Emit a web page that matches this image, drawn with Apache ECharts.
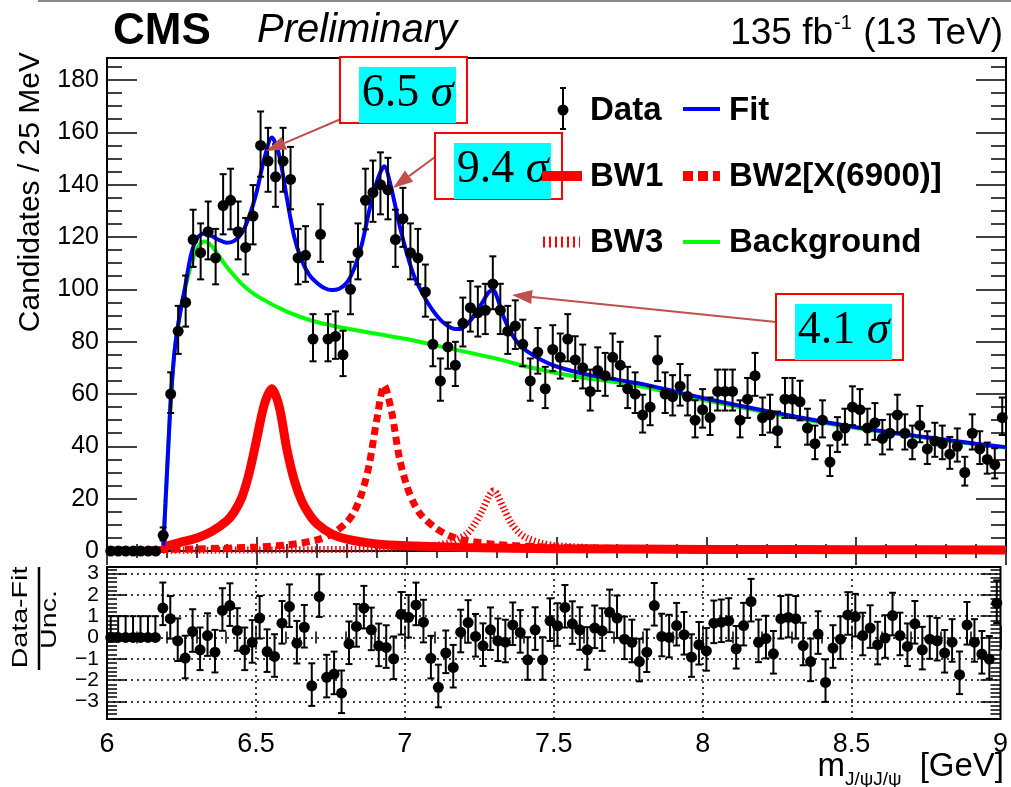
<!DOCTYPE html>
<html><head><meta charset="utf-8">
<script src="https://cdn.jsdelivr.net/npm/echarts@6/dist/echarts.min.js"></script>
<style>html,body{margin:0;padding:0;background:#fff}#c{width:1011px;height:787px}</style>
</head><body><div id="c"></div>
<script>
// ---------------- data ----------------
const BIN_START = 6.0;
const BIN_WIDTH = 0.025;
const counts = [0,0,0,0,0,0,0,6,60,84,95,119,114,122,112,132,134,122,116,128,
155,149,143,149,142,112,113,81,121,81,82,75,100,114,134,137,140,138,119,127,
114,112,99,79,65,78,71,87,93,91,92,102,92,84,86,79,65,76,62,77,
74,81,73,70,61,69,67,74,71,62,60,52,55,73,60,59,63,59,50,54,
51,61,61,61,50,58,67,51,52,46,58,58,57,47,41,50,34,44,47,55,
54,47,49,43,45,52,45,41,48,39,42,41,37,40,30,45,39,35,33,51];
const pulls = [0,0,0,0,0,0,0,1.38,0.88,-0.16,-0.97,0.28,-0.58,0.09,-0.69,1.27,1.5,0.33,-0.58,-0.23,
0.91,-0.66,-0.89,0.67,1.45,-0.27,0.48,-2.27,1.92,-1.87,-1.72,-2.61,-0.3,0.52,1.38,0.36,-0.39,-0.47,-1.0,1.09,
0.95,1.53,0.72,-0.98,-2.34,-0.73,-1.41,0.25,0.7,0.05,-0.39,0.36,-0.16,-0.22,0.59,0.23,-1.05,0.36,-1.05,0.78,
0.55,1.41,0.64,0.36,-0.58,0.44,0.31,1.19,0.91,-0.08,-0.23,-1.13,-0.69,1.5,0.05,0.0,0.56,0.13,-0.92,-0.34,
-0.63,0.67,0.72,0.78,-0.53,0.56,1.69,-0.23,-0.05,-0.77,0.88,0.94,0.88,-0.38,-1.13,0.16,-2.11,-0.5,-0.08,1.06,
0.98,0.09,0.44,-0.34,-0.03,1.03,0.09,-0.42,0.64,-0.58,-0.08,-0.16,-0.73,-0.22,-1.75,0.59,-0.22,-0.78,-1.02,1.61];

const fitCurve = [[6.188,2],[6.195,18],[6.205,41],[6.214,60],[6.227,78],[6.244,91],[6.26,100.5],[6.28,113],[6.30,119.5],[6.325,121.3],[6.35,120.3],[6.375,118.8],[6.40,117.8],[6.425,118.5],[6.45,121.5],[6.475,128],[6.50,137.5],[6.525,150],[6.55,158],[6.575,151],[6.60,135],[6.625,120],[6.65,111],[6.675,105.5],[6.70,102.5],[6.725,100.5],[6.75,99.7],[6.775,100.2],[6.80,102.5],[6.825,108],[6.85,117],[6.875,130],[6.90,141],[6.925,147],[6.95,138],[6.975,125],[7.00,114],[7.025,105],[7.05,99],[7.075,94],[7.10,90],[7.125,87],[7.15,85.2],[7.175,84.8],[7.20,86.5],[7.225,90],[7.25,94.5],[7.275,99],[7.29,99.6],[7.30,97.5],[7.325,89],[7.35,83],[7.375,79],[7.40,76.5],[7.45,73],[7.50,70.5],[7.60,67.5],[7.70,65.5],[7.80,63.5],[7.90,60.8],[8.00,58.2],[8.10,55.8],[8.20,53.5],[8.30,51.3],[8.40,49.2],[8.50,47.3],[8.60,45.6],[8.70,44],[8.80,42.5],[8.90,41],[9.00,39.7]];
const bgCurve = [[6.188,2],[6.195,18],[6.205,41],[6.214,60],[6.227,78],[6.244,91],[6.26,100],[6.28,109],[6.30,115.5],[6.325,118.3],[6.35,116.5],[6.375,112.5],[6.40,108.5],[6.45,102],[6.50,97.5],[6.60,91.5],[6.70,87.5],[6.80,85],[6.90,83],[7.00,81],[7.10,78.5],[7.20,76],[7.30,73.5],[7.40,70.5],[7.50,68],[7.60,66],[7.70,64.5],[7.80,62.5],[7.90,60],[8.00,57.5],[8.10,55.2],[8.20,53],[8.30,50.8],[8.40,48.8],[8.50,47],[8.60,45.3],[8.70,43.7],[8.80,42.2],[8.90,40.8],[9.00,39.5]];
const bw1Curve = [[6.188,1.5],[6.25,3.5],[6.30,5],[6.35,7.5],[6.40,11.5],[6.425,15],[6.45,20.5],[6.475,30],[6.50,43],[6.525,56],[6.55,62],[6.575,55],[6.60,39],[6.625,27],[6.65,19],[6.675,14],[6.70,10.5],[6.75,6.5],[6.80,4.5],[6.90,2.7],[7.00,2.0],[7.20,1.3],[7.50,0.9],[8.00,0.6],[8.50,0.5],[9.00,0.4]];
const bw2Curve = [[6.00,0.3],[6.30,0.8],[6.50,1.5],[6.60,2.3],[6.70,4.2],[6.75,6.5],[6.80,11],[6.825,15],[6.85,22],[6.875,33],[6.90,50],[6.925,63.3],[6.95,53],[6.975,36],[7.00,25],[7.025,18],[7.05,13.5],[7.10,8.5],[7.15,5.5],[7.20,4],[7.30,2.5],[7.50,1.4],[8.00,0.7],[9.00,0.4]];
const bw3Curve = [[6.00,0.2],[6.80,0.6],[7.00,1.2],[7.10,2.2],[7.15,3.5],[7.20,6.5],[7.225,10],[7.25,15],[7.275,21],[7.29,23],[7.30,22],[7.325,16],[7.35,10.5],[7.375,7],[7.40,5],[7.45,3],[7.50,2],[7.70,0.9],[8.00,0.5],[9.00,0.3]];

const xTicks = [6, 6.5, 7, 7.5, 8, 8.5, 9];
const xTickLabels = ['6', '6.5', '7', '7.5', '8', '8.5', '9'];
const yTicks = [0, 20, 40, 60, 80, 100, 120, 140, 160, 180];
const yTickLabels = ['0', '20', '40', '60', '80', '100', '120', '140', '160', '180'];
const pullTicks = [-3, -2, -1, 0, 1, 2, 3];
const pullTickLabels = ['\u22123', '\u22122', '\u22121', '0', '1', '2', '3'];
const significances = ['6.5', '9.4', '4.1'];

// ---------------- derived ----------------
const yMinor = []; for (let v = 0; v <= 185; v += 5) yMinor.push(v);
const pullMinor = []; for (let k = -19; k <= 16; k++) pullMinor.push(+(k * 0.2).toFixed(1));
const centers = counts.map((_, i) => +(BIN_START + BIN_WIDTH * (i + 0.5)).toFixed(4));
const dataPts = counts.map((n, i) => [centers[i], n]);
const dataErr = [];
counts.forEach((n, i) => {
  if (n > 0) { const s = Math.sqrt(n + 0.25); dataErr.push([centers[i], n - (s - 0.5), n + (s + 0.5)]); }
});
const pullPts = pulls.map((p, i) => [centers[i], p]);
const pullErr = pulls.map((p, i) => {
  const n = counts[i];
  if (n === 0) return [centers[i], p, p + 1];
  const s = Math.sqrt(n + 0.25);
  return [centers[i], p - (1 - 0.5 / s), p + (1 + 0.5 / s)];
});

// ---------------- helpers ----------------
const FONT = 'Liberation Sans, Arial, Helvetica, sans-serif';
const SERIF = 'Liberation Serif, Times New Roman, serif';
function errRender(cap) {
  return function (params, api) {
    const x = api.value(0), lo = api.value(1), hi = api.value(2);
    const a = api.coord([x, hi]), b = api.coord([x, lo]);
    const st = { stroke: '#000', lineWidth: 2 };
    return { type: 'group', children: [
      { type: 'line', shape: { x1: a[0], y1: a[1], x2: b[0], y2: b[1] }, style: st },
      { type: 'line', shape: { x1: a[0] - cap, y1: a[1], x2: a[0] + cap, y2: a[1] }, style: st },
      { type: 'line', shape: { x1: b[0] - cap, y1: b[1], x2: b[0] + cap, y2: b[1] }, style: st }
    ] };
  };
}
const tickStyle = { color: '#000', width: 1.5 };
function xAx(grid, pos, showLabel, major, minor) {
  return {
    type: 'value', gridIndex: grid, position: pos, min: 6, max: 9, interval: 0.5,
    axisLine: { show: false }, splitLine: { show: false },
    axisTick: { show: true, inside: true, length: major, lineStyle: tickStyle },
    minorTick: { show: true, splitNumber: 5, length: minor, lineStyle: tickStyle },
    axisLabel: { show: showLabel, fontFamily: FONT, fontSize: 27, color: '#000', margin: 12,
      formatter: v => { const k = xTicks.findIndex(t => Math.abs(t - v) < 1e-6); return k >= 0 ? xTickLabels[k] : ''; } }
  };
}
function yAx(grid, pos, min, max, ticks, len, labels, fs) {
  return {
    type: 'value', gridIndex: grid, position: pos, min: min, max: max,
    axisLine: { show: false }, splitLine: { show: false },
    axisTick: { show: true, inside: true, length: len, customValues: ticks, lineStyle: tickStyle },
    axisLabel: labels ? { show: true, customValues: ticks, fontFamily: FONT, fontSize: fs, color: '#000', margin: 8,
      formatter: v => { const k = labels.vals.findIndex(t => Math.abs(t - v) < 1e-6); return k >= 0 ? labels.txt[k] : ''; } }
      : { show: false }
  };
}
const ARW = '#c0504d';
function arrow(x1, y1, x2, y2) {
  const dx = x2 - x1, dy = y2 - y1, L = Math.hypot(dx, dy), ux = dx / L, uy = dy / L;
  const hl = 20, hw = 7, bx = x2 - ux * hl, by = y2 - uy * hl;
  return [
    { type: 'line', z: 100, shape: { x1: x1, y1: y1, x2: bx, y2: by }, style: { stroke: ARW, lineWidth: 2 } },
    { type: 'polygon', z: 100, shape: { points: [[x2, y2], [bx - uy * hw, by + ux * hw], [bx + uy * hw, by - ux * hw]] }, style: { fill: ARW } }
  ];
}
function sigBox(bx, by, cx, cy, label) {
  return [
    { type: 'rect', z: 100, shape: { x: bx, y: by, width: 127, height: 66 }, style: { fill: '#fff', stroke: '#ff0000', lineWidth: 2 } },
    { type: 'rect', z: 101, shape: { x: cx, y: cy, width: 97, height: 56 }, style: { fill: '#00ffff' } },
    { type: 'text', z: 102, x: cx + 48.5, y: cy + 27, style: { text: label + ' {s|\u03c3}', fontFamily: SERIF, fontSize: 46, fill: '#000',
      textAlign: 'center', textVerticalAlign: 'middle', rich: { s: { fontFamily: SERIF, fontSize: 46, fontStyle: 'italic', fill: '#000' } } } }
  ];
}
function txt(x, y, s, o) {
  return Object.assign({ type: 'text', z: 110, x: x, y: y, style: Object.assign({ text: s, fontFamily: FONT, fill: '#000', textVerticalAlign: 'middle' }, o.style) }, o.el || {});
}
function seg(x1, y1, x2, y2, st) { return { type: 'line', z: 110, shape: { x1, y1, x2, y2 }, style: st }; }

const legendFont = { fontSize: 33, fontWeight: 'bold' };
const graphics = [].concat(
  [seg(38, 1, 1011, 1, { stroke: '#888', lineWidth: 2 })],
  [txt(113, 32, 'CMS', { style: { fontSize: 44, fontWeight: 'bold' } }),
   txt(257, 31, 'Preliminary', { style: { fontSize: 40, fontStyle: 'italic' } }),
   txt(833, 34, '135 fb', { style: { fontSize: 37, textAlign: 'right' } }),
   txt(834, 23, '-1', { style: { fontSize: 20 } }),
   txt(1003, 34, '(13 TeV)', { style: { fontSize: 37, textAlign: 'right' } })],
  [txt(30.5, 52, 'Candidates / 25 MeV', { style: { fontSize: 30, textAlign: 'right' }, el: { rotation: Math.PI / 2 } }),
   txt(20.5, 617.5, 'Data-Fit', { style: { fontSize: 22, textAlign: 'center' }, el: { rotation: Math.PI / 2, scaleX: 1.3 } }),
   seg(39, 567, 39, 670, { stroke: '#000', lineWidth: 2.5 }),
   txt(49.5, 619.5, 'Unc.', { style: { fontSize: 22, textAlign: 'center' }, el: { rotation: Math.PI / 2, scaleX: 1.3 } })],
  [txt(1004, 767, '[GeV]', { style: { fontSize: 33, textAlign: 'right' } }),
   txt(845, 780, 'J/\u03c8J/\u03c8', { style: { fontSize: 19, textAlign: 'left' } }),
   txt(845, 767, 'm', { style: { fontSize: 33, textAlign: 'right' } })],
  arrow(341, 119, 266, 151), arrow(435, 157, 393, 188), arrow(776, 322, 512, 295),
  sigBox(340, 57, 359, 67, significances[0]),
  sigBox(435, 133, 454, 143, significances[1]),
  sigBox(776, 294, 795, 304, significances[2]),
  [
    seg(563, 88, 563, 129, { stroke: '#000', lineWidth: 2 }),
    seg(560, 88, 566, 88, { stroke: '#000', lineWidth: 2 }),
    seg(560, 129, 566, 129, { stroke: '#000', lineWidth: 2 }),
    { type: 'circle', z: 111, shape: { cx: 563, cy: 110, r: 5.5 }, style: { fill: '#000' } },
    txt(590, 111, 'Data', { style: legendFont }),
    seg(683, 109, 720, 109, { stroke: '#0000ff', lineWidth: 4 }),
    txt(729, 111, 'Fit', { style: legendFont }),
    seg(542, 176, 582, 176, { stroke: '#ff0000', lineWidth: 10 }),
    txt(590, 177, 'BW1', { style: legendFont }),
    seg(683, 176, 720, 176, { stroke: '#ff0000', lineWidth: 10, lineDash: [10, 5] }),
    txt(729, 177, 'BW2[X(6900)]', { style: legendFont }),
    seg(543, 242, 580, 242, { stroke: '#ff0000', lineWidth: 11, lineDash: [2, 4] }),
    txt(590, 243, 'BW3', { style: legendFont }),
    seg(683, 242, 720, 242, { stroke: '#00ff00', lineWidth: 4 }),
    txt(729, 243, 'Background', { style: legendFont })
  ]
);

const gridMarks = pullTicks.map(v => ({ yAxis: v })).concat(xTicks.slice(1, -1).map(v => ({ xAxis: v })));

const option = {
  animation: false,
  backgroundColor: '#fff',
  textStyle: { fontFamily: FONT },
  grid: [
    { left: 107, top: 58, width: 899, height: 493, show: true, borderColor: '#000', borderWidth: 2, backgroundColor: 'transparent' },
    { left: 107, top: 567, width: 899, height: 152, show: true, borderColor: '#000', borderWidth: 2, backgroundColor: 'transparent' }
  ],
  xAxis: [xAx(0, 'bottom', false, 14, 7), xAx(0, 'top', false, 14, 7), xAx(1, 'bottom', true, 12, 6), xAx(1, 'top', false, 12, 6)],
  yAxis: [
    yAx(0, 'left', 0, 188.4, yTicks, 30, { vals: yTicks, txt: yTickLabels }, 25),
    yAx(0, 'left', 0, 188.4, yMinor, 15, null),
    yAx(0, 'right', 0, 188.4, yTicks, 30, null),
    yAx(0, 'right', 0, 188.4, yMinor, 15, null),
    yAx(1, 'left', -3.83, 3.31, pullTicks, 20, { vals: pullTicks, txt: pullTickLabels }, 21),
    yAx(1, 'left', -3.83, 3.31, pullMinor, 10, null),
    yAx(1, 'right', -3.83, 3.31, pullTicks, 20, null),
    yAx(1, 'right', -3.83, 3.31, pullMinor, 10, null)
  ],
  series: [
    { name: 'Background', type: 'line', xAxisIndex: 0, yAxisIndex: 0, data: bgCurve, showSymbol: false, smooth: 0.3, z: 2,
      lineStyle: { color: '#00ff00', width: 4 } },
    { name: 'BW2', type: 'line', xAxisIndex: 0, yAxisIndex: 0, data: bw2Curve, showSymbol: false, smooth: 0.3, z: 2,
      lineStyle: { color: '#ff0000', width: 7, type: [8, 5] } },
    { name: 'BW3', type: 'line', xAxisIndex: 0, yAxisIndex: 0, data: bw3Curve, showSymbol: false, smooth: 0.3, z: 2,
      lineStyle: { color: '#ff0000', width: 7, type: [1.5, 2.5] } },
    { name: 'BW1', type: 'line', xAxisIndex: 0, yAxisIndex: 0, data: bw1Curve, showSymbol: false, smooth: 0.3, z: 2,
      lineStyle: { color: '#ff0000', width: 9 } },
    { name: 'Fit', type: 'line', xAxisIndex: 0, yAxisIndex: 0, data: fitCurve, showSymbol: false, smooth: 0.3, z: 3,
      lineStyle: { color: '#0000ff', width: 4 } },
    { name: 'DataErr', type: 'custom', xAxisIndex: 0, yAxisIndex: 0, data: dataErr, renderItem: errRender(3.5), z: 4,
      encode: { x: 0, y: [1, 2] } },
    { name: 'Data', type: 'scatter', xAxisIndex: 0, yAxisIndex: 0, data: dataPts, symbol: 'circle', symbolSize: 11, z: 5,
      itemStyle: { color: '#000', opacity: 1 } },
    { name: 'Grid', type: 'line', xAxisIndex: 2, yAxisIndex: 4, data: [], z: 1,
      markLine: { silent: true, symbol: ['none', 'none'], label: { show: false }, animation: false,
        lineStyle: { color: '#000', width: 1.5, type: [2, 4] }, data: gridMarks } },
    { name: 'PullErr', type: 'custom', xAxisIndex: 2, yAxisIndex: 4, data: pullErr, renderItem: errRender(3.5), z: 4,
      encode: { x: 0, y: [1, 2] } },
    { name: 'Pull', type: 'scatter', xAxisIndex: 2, yAxisIndex: 4, data: pullPts, symbol: 'circle', symbolSize: 11, z: 5,
      itemStyle: { color: '#000', opacity: 1 } }
  ],
  graphic: graphics
};
const chart = echarts.init(document.getElementById('c'), null, { renderer: 'canvas' });
chart.setOption(option);
</script>
</body></html>
